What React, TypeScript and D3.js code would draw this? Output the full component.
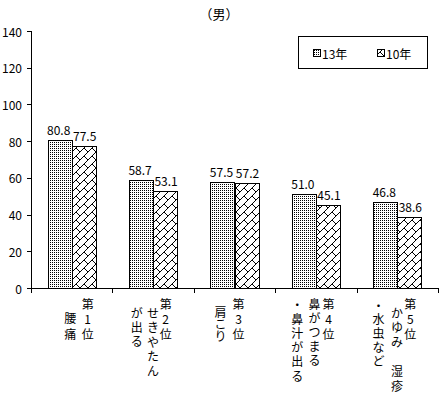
import React from "react";
import * as d3 from "d3";

const categoryLabelColumns: string[][] = [
  ["第1位", "腰痛"],
  ["第2位", "せきやたん", "が出る"],
  ["第3位", "肩こり"],
  ["第4位", "鼻がつまる", "・鼻汁が出る"],
  ["第5位", "かゆみ　湿疹", "・水虫など"],
];
const seriesNames = ["13年", "10年"];
const values13 = [80.8, 58.7, 57.5, 51.0, 46.8];
const values10 = [77.5, 53.1, 57.2, 45.1, 38.6];
const yTicks = [0, 20, 40, 60, 80, 100, 120, 140];
const title = "（男）";

// layout of vertical label columns: dx from band centre, first char centre y, char step
const labelLayout = [
  [{ dx: 16, y0: 303, step: 15 }, { dx: -1.5, y0: 317, step: 16 }],
  [{ dx: 12.6, y0: 303, step: 15 }, { dx: 0, y0: 312, step: 14.5 }, { dx: -16.4, y0: 312, step: 14 }],
  [{ dx: 4, y0: 303, step: 15 }, { dx: -14, y0: 311, step: 12 }],
  [{ dx: 12.6, y0: 303, step: 15 }, { dx: -1.4, y0: 303, step: 14.2 }, { dx: -18.7, y0: 304, step: 14.2 }],
  [{ dx: 13, y0: 303, step: 15 }, { dx: -0.4, y0: 312, step: 14.6 }, { dx: -18.8, y0: 305, step: 13.8 }],
];

const W = 441;
const H = 394;
const FONT = "'Noto Sans CJK JP', sans-serif";

export default function App() {
  const x0 = 31, x1 = 438, yTop = 31, yBot = 288;
  const idx = categoryLabelColumns.map((_, i) => String(i));
  const x = d3.scaleBand<string>().domain(idx).range([x0, x1]).paddingInner(0).paddingOuter(0);
  const barW = x.bandwidth() * 0.295;
  const xs = d3.scaleBand<string>().domain(seriesNames).range([-barW, barW]);
  const y = d3.scaleLinear().domain([0, 140]).range([yBot, yTop]);
  const series = [values13, values10];
  const fills = ["url(#dots)", "url(#brick)"];

  return (
    <svg width={W} height={H} style={{ position: "absolute", left: 0, top: 0, background: "#fff" }} fontFamily={FONT}>
      <defs>
        <pattern id="dots" width={2} height={2} patternUnits="userSpaceOnUse">
          <rect width={2} height={2} fill="#fff" />
          <rect width={1} height={1} fill="#000" shapeRendering="crispEdges" />
        </pattern>
        <pattern id="brick" width={8} height={8} patternUnits="userSpaceOnUse">
          <rect width={8} height={8} fill="#fff" />
          <path d="M0,8 L8,0 M4,4 L8,8 M-1,1 L0,0" stroke="#000" strokeWidth={1} fill="none" />
        </pattern>
      </defs>
      <rect width={W} height={H} fill="#fff" />
      <text x={219} y={13} fontSize={13} textAnchor="middle" dominantBaseline="central">{title}</text>

      {/* y axis */}
      <line x1={x0 + 0.5} x2={x0 + 0.5} y1={yTop} y2={yBot} stroke="#000" />
      {yTicks.map((t) => (
        <g key={t}>
          <line x1={x0 - 4} x2={x0} y1={Math.round(y(t)) + 0.5} y2={Math.round(y(t)) + 0.5} stroke="#000" />
          <text x={22} y={y(t)} fontSize={12} textAnchor="end" dominantBaseline="central">{t}</text>
        </g>
      ))}

      {/* bars */}
      {series.map((vals, s) =>
        vals.map((v, i) => {
          const bx = (x(String(i)) as number) + x.bandwidth() / 2 + (xs(seriesNames[s]) as number);
          return (
            <g key={s + "-" + i}>
              <rect x={Math.round(bx) + 0.5} y={Math.round(y(v)) + 0.5} width={Math.round(barW)} height={Math.round(yBot - y(v))}
                fill={fills[s]} stroke="#000" strokeWidth={1} />
              <text x={bx + barW / 2 + (s === 0 ? -1 : 1)} y={y(v) - 5} fontSize={12} textAnchor="middle">{v.toFixed(1)}</text>
            </g>
          );
        })
      )}

      {/* x axis */}
      <line x1={x0} x2={x1} y1={yBot + 0.5} y2={yBot + 0.5} stroke="#000" />
      {idx.concat([String(idx.length)]).map((k, i) => {
        const px = Math.round(x0 + i * x.bandwidth()) + 0.5;
        return <line key={k} x1={px} x2={px} y1={yBot} y2={yBot + 5} stroke="#000" />;
      })}

      {/* vertical category labels, one character per text */}
      {categoryLabelColumns.map((cols, i) => {
        const cx = (x(String(i)) as number) + x.bandwidth() / 2;
        return cols.map((col, c) => {
          const L = labelLayout[i][c];
          return Array.from(col).map((ch, k) => (
            <text key={i + "-" + c + "-" + k} x={cx + L.dx} y={L.y0 + k * L.step} fontSize={12}
              textAnchor="middle" dominantBaseline="central">{ch}</text>
          ));
        });
      })}

      {/* legend */}
      <rect x={298.5} y={36.5} width={129} height={32} fill="#fff" stroke="#000" />
      {seriesNames.map((n, s) => {
        const lx = [313, 377][s];
        return (
          <g key={n}>
            <rect x={lx + 0.5} y={49.5} width={7} height={7} fill={fills[s]} stroke="#000" />
            <text x={lx + 9} y={53} fontSize={12} dominantBaseline="central">{n}</text>
          </g>
        );
      })}
    </svg>
  );
}
